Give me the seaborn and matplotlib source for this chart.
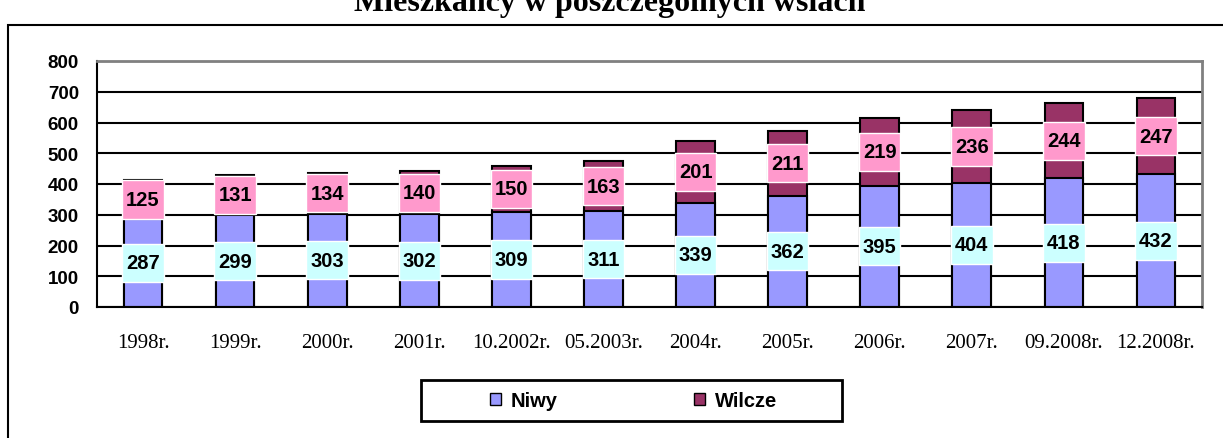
import numpy as np
import pandas as pd
import matplotlib
matplotlib.use("Agg")
import matplotlib.pyplot as plt
from matplotlib.patches import Rectangle, Patch
import seaborn as sns

# dane
lata = ['1998r.', '1999r.', '2000r.', '2001r.', '10.2002r.', '05.2003r.',
        '2004r.', '2005r.', '2006r.', '2007r.', '09.2008r.', '12.2008r.']
niwy = [287, 299, 303, 302, 309, 311, 339, 362, 395, 404, 418, 432]
wilcze = [125, 131, 134, 140, 150, 163, 201, 211, 219, 236, 244, 247]

KOLOR_NIWY = '#9999FF'
KOLOR_WILCZE = '#993366'
TLO_NIWY = '#CCFFFF'
TLO_WILCZE = '#FF99CC'

sns.set_style("white")
plt.rcParams['font.family'] = ['Liberation Sans', 'DejaVu Sans']
plt.rcParams['text.color'] = 'black'
plt.rcParams['xtick.color'] = 'black'
plt.rcParams['ytick.color'] = 'black'
plt.rcParams['xtick.labelcolor'] = 'black'
plt.rcParams['ytick.labelcolor'] = 'black'

df = pd.DataFrame({'rok': lata, 'Niwy': niwy, 'Wilcze': wilcze})
df['suma'] = df['Niwy'] + df['Wilcze']

W, H = 1223, 439
fig = plt.figure(figsize=(W / 100, H / 100), dpi=100)
ax = fig.add_axes([97 / W, 1 - 308 / H, (1202 - 97) / W, (308 - 62) / H])

# słupki skumulowane: suma (Wilcze) pod spodem, Niwy na wierzchu
sns.barplot(data=df, x='rok', y='suma', order=lata, color=KOLOR_WILCZE, saturation=1,
            edgecolor='black', linewidth=1.5, width=0.42, ax=ax, zorder=2)
sns.barplot(data=df, x='rok', y='Niwy', order=lata, color=KOLOR_NIWY, saturation=1,
            edgecolor='black', linewidth=1.5, width=0.42, ax=ax, zorder=2)

# etykiety danych z tłem
x = np.arange(len(lata))
h_box = 124
srodek_n = df['Niwy'] / 2
srodek_w = df['Niwy'] + df['Wilcze'] / 2
ax.bar(x, h_box, bottom=srodek_n - h_box / 2, width=0.45, color=TLO_NIWY, zorder=3)
ax.bar(x, h_box, bottom=srodek_w - h_box / 2, width=0.45, color=TLO_WILCZE, zorder=3)
for i in range(len(lata)):
    ax.text(x[i], srodek_n[i], str(niwy[i]), ha='center', va='center', color='black',
            fontsize=14.5, fontweight='bold', zorder=4)
    ax.text(x[i], srodek_w[i], str(wilcze[i]), ha='center', va='center', color='black',
            fontsize=14.5, fontweight='bold', zorder=4)

# osie
ax.set_xlim(-0.5, len(lata) - 0.5)
ax.set_ylim(0, 800)
ax.set_yticks(range(0, 801, 100))
ax.set_xticks(x)
ax.set_xticklabels(lata, family='Liberation Serif', fontsize=15)
ax.set_xticks(np.arange(-0.5, len(lata), 1), minor=True)
ax.tick_params(axis='x', which='major', length=0, pad=19)
ax.tick_params(axis='x', which='minor', length=5, width=1.5, direction='out', color='black')
ax.tick_params(axis='y', length=5, width=1.5, direction='out', color='black', pad=8)
for t in ax.get_yticklabels():
    t.set_fontweight('bold')
    t.set_fontsize(13.5)
ax.set_xlabel('')
ax.set_ylabel('')
ax.set_axisbelow(True)
ax.yaxis.grid(True, color='black', linewidth=1.5)
ax.spines['left'].set_color('black')
ax.spines['bottom'].set_color('black')
ax.spines['left'].set_linewidth(1.5)
ax.spines['bottom'].set_linewidth(1.5)
ax.spines['top'].set_color('#808080')
ax.spines['right'].set_color('#808080')
ax.spines['top'].set_linewidth(2)
ax.spines['right'].set_linewidth(2)

# tytuł (ucięty u góry, jak w oryginale)
fig.text(610 / W, 1 - 11 / H, 'Mieszkańcy w poszczególnych wsiach', ha='center', va='baseline',
         family='Liberation Serif', fontweight='bold', fontsize=23)

# ramka wykresu
fig.patches.append(Rectangle((8 / W, -0.2), 1.2, 1.2 - 26 / H, transform=fig.transFigure,
                             fill=False, edgecolor='black', linewidth=1.5))

# legenda
uchwyty = [Patch(facecolor=KOLOR_NIWY, edgecolor='black', label='Niwy'),
           Patch(facecolor=KOLOR_WILCZE, edgecolor='black', label='Wilcze')]
fig.legend(handles=uchwyty, loc='center', bbox_to_anchor=(633.5 / W, 1 - 401.5 / H), ncol=2,
           frameon=False, prop={'weight': 'bold', 'size': 14.5}, handlelength=0.55,
           handleheight=0.55, handletextpad=0.45, columnspacing=6.8)
fig.patches.append(Rectangle((421 / W, 1 - 422 / H), 421 / W, 41 / H, transform=fig.transFigure,
                             fill=False, edgecolor='black', linewidth=2))

plt.savefig('out.png', dpi=100)
